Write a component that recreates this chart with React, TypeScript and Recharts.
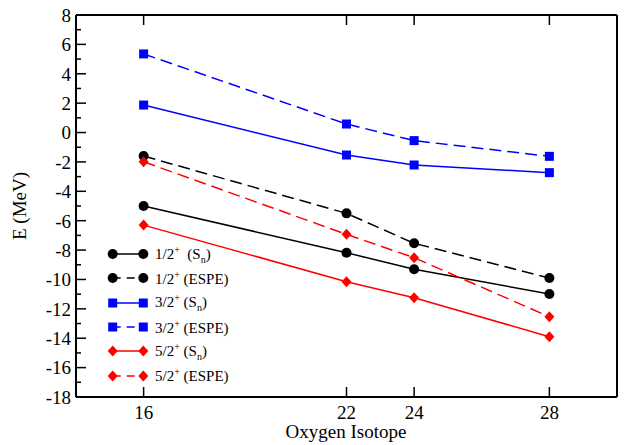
import { LineChart, Line, XAxis, YAxis } from 'recharts';

// Oxygen isotopes (mass number) on the x axis
const isotopes = [16, 22, 24, 28];

// single-particle energies in MeV
const halfSn = [-5.0, -8.18, -9.31, -10.99];
const halfEspe = [-1.6, -5.5, -7.54, -9.9];
const threeSn = [1.87, -1.53, -2.21, -2.73];
const threeEspe = [5.35, 0.58, -0.55, -1.62];
const fiveSn = [-6.3, -10.15, -11.24, -13.9];
const fiveEspe = [-1.99, -6.93, -8.52, -12.54];

const xTicks = [16, 22, 24, 28];
const yTicks = [-18, -17, -16, -15, -14, -13, -12, -11, -10, -9, -8, -7, -6, -5, -4, -3, -2, -1, 0, 1, 2, 3, 4, 5, 6, 7, 8];

const data = isotopes.map((a, i) => ({
  a,
  halfSn: halfSn[i],
  halfEspe: halfEspe[i],
  threeSn: threeSn[i],
  threeEspe: threeEspe[i],
  fiveSn: fiveSn[i],
  fiveEspe: fiveEspe[i],
}));

const series = [
  { key: 'halfSn', frac: '1/2', tag: 'Sn', color: '#000', dashed: false, shape: 'circle' },
  { key: 'halfEspe', frac: '1/2', tag: 'ESPE', color: '#000', dashed: true, shape: 'circle' },
  { key: 'threeSn', frac: '3/2', tag: 'Sn', color: '#0000ff', dashed: false, shape: 'square' },
  { key: 'threeEspe', frac: '3/2', tag: 'ESPE', color: '#0000ff', dashed: true, shape: 'square' },
  { key: 'fiveSn', frac: '5/2', tag: 'Sn', color: '#ff0000', dashed: false, shape: 'diamond' },
  { key: 'fiveEspe', frac: '5/2', tag: 'ESPE', color: '#ff0000', dashed: true, shape: 'diamond' },
];

const FONT = '"Liberation Serif", "DejaVu Serif", serif';
const DASH = '12 6';

const marker = (shape: string, cx: number, cy: number, color: string, key?: any) => {
  if (shape === 'circle') return <circle key={key} cx={cx} cy={cy} r={5} fill={color} />;
  if (shape === 'square') return <rect key={key} x={cx - 4.5} y={cy - 4.5} width={9} height={9} fill={color} />;
  return (
    <polygon
      key={key}
      points={`${cx},${cy - 5.5} ${cx + 5},${cy} ${cx},${cy + 5.5} ${cx - 5},${cy}`}
      fill={color}
    />
  );
};

const makeDot = (shape: string, color: string) => (p: any) => {
  if (p.cx == null || p.cy == null) return <g key={p.key} />;
  return marker(shape, p.cx, p.cy, color, p.key);
};

const LeftTick = ({ x, y, payload }: any) => {
  const major = payload.value % 2 === 0;
  return (
    <g>
      <line x1={x} x2={x + (major ? 10 : 5)} y1={y} y2={y} stroke="#000" strokeWidth={1.5} />
      {major && (
        <text x={x - 5} y={y} dy="0.36em" textAnchor="end" fontSize={19} fontFamily={FONT} fill="#000">
          {payload.value}
        </text>
      )}
    </g>
  );
};

const RightTick = ({ x, y, payload }: any) => {
  const major = payload.value % 2 === 0;
  return <line x1={x} x2={x - (major ? 10 : 5)} y1={y} y2={y} stroke="#000" strokeWidth={1.5} />;
};

const BottomTick = ({ x, y, payload }: any) => (
  <g>
    <line x1={x} x2={x} y1={y} y2={y - 10} stroke="#000" strokeWidth={1.5} />
    <text x={x} y={y + 22} textAnchor="middle" fontSize={19} fontFamily={FONT} fill="#000">
      {payload.value}
    </text>
  </g>
);

const TopTick = ({ x, y }: any) => (
  <line x1={x} x2={x} y1={y} y2={y + 10} stroke="#000" strokeWidth={1.5} />
);

const App = () => {
  return (
    <div style={{ position: 'absolute', left: 0, top: 0, width: 625, height: 445, background: '#fff' }}>
      <LineChart width={625} height={445} data={data} margin={{ top: 0, right: 0, bottom: 18, left: 16 }}>
        <XAxis
          dataKey="a"
          type="number"
          domain={[14, 30]}
          ticks={xTicks}
          interval={0}
          height={30}
          tickSize={0}
          tickMargin={0}
          tickLine={false}
          tick={<BottomTick />}
          axisLine={{ stroke: '#000', strokeWidth: 2 }}
        />
        <XAxis
          xAxisId="top"
          orientation="top"
          dataKey="a"
          type="number"
          domain={[14, 30]}
          ticks={xTicks}
          interval={0}
          height={15}
          tickSize={0}
          tickMargin={0}
          tickLine={false}
          tick={<TopTick />}
          axisLine={{ stroke: '#000', strokeWidth: 2 }}
        />
        <YAxis
          type="number"
          domain={[-18, 8]}
          ticks={yTicks}
          interval={0}
          width={60}
          tickSize={0}
          tickMargin={0}
          tickLine={false}
          tick={<LeftTick />}
          axisLine={{ stroke: '#000', strokeWidth: 2 }}
        />
        <YAxis
          yAxisId="right"
          orientation="right"
          type="number"
          domain={[-18, 8]}
          ticks={yTicks}
          interval={0}
          width={8}
          tickSize={0}
          tickMargin={0}
          tickLine={false}
          tick={<RightTick />}
          axisLine={{ stroke: '#000', strokeWidth: 2 }}
        />
        {series.map((s) => (
          <Line
            key={s.key}
            dataKey={s.key}
            type="linear"
            stroke={s.color}
            strokeWidth={1.5}
            strokeDasharray={s.dashed ? DASH : undefined}
            dot={makeDot(s.shape, s.color)}
            activeDot={false}
            isAnimationActive={false}
          />
        ))}
      </LineChart>

      {/* axis titles */}
      <div
        style={{
          position: 'absolute',
          left: 20,
          top: 206,
          transform: 'translate(-50%, -50%) rotate(-90deg)',
          fontFamily: FONT,
          fontSize: 19,
          whiteSpace: 'nowrap',
        }}
      >
        E (MeV)
      </div>
      <div
        style={{
          position: 'absolute',
          left: 346,
          top: 432,
          transform: 'translate(-50%, -50%)',
          fontFamily: FONT,
          fontSize: 19,
          whiteSpace: 'nowrap',
        }}
      >
        Oxygen Isotope
      </div>

      {/* legend */}
      <div style={{ position: 'absolute', left: 105, top: 242, fontFamily: FONT, fontSize: 15 }}>
        {series.map((s, i) => (
          <div key={s.key} style={{ height: 24.3, display: 'flex', alignItems: 'center' }}>
            <svg width={48} height={16} style={{ display: 'block' }}>
              <line
                x1={7.7}
                x2={38.3}
                y1={8}
                y2={8}
                stroke={s.color}
                strokeWidth={1.5}
                strokeDasharray={s.dashed ? '8 6' : undefined}
              />
              {marker(s.shape, 7.7, 8, s.color)}
              {marker(s.shape, 38.3, 8, s.color)}
            </svg>
            <span style={{ marginLeft: 2, whiteSpace: 'pre' }}>
              {s.frac}
              <sup style={{ fontSize: 10 }}>+</sup>
              {i === 0 ? '  (' : ' ('}
              {s.tag === 'Sn' ? (
                <>
                  S<sub style={{ fontSize: 10 }}>n</sub>
                </>
              ) : (
                s.tag
              )}
              )
            </span>
          </div>
        ))}
      </div>
    </div>
  );
};

export default App;
